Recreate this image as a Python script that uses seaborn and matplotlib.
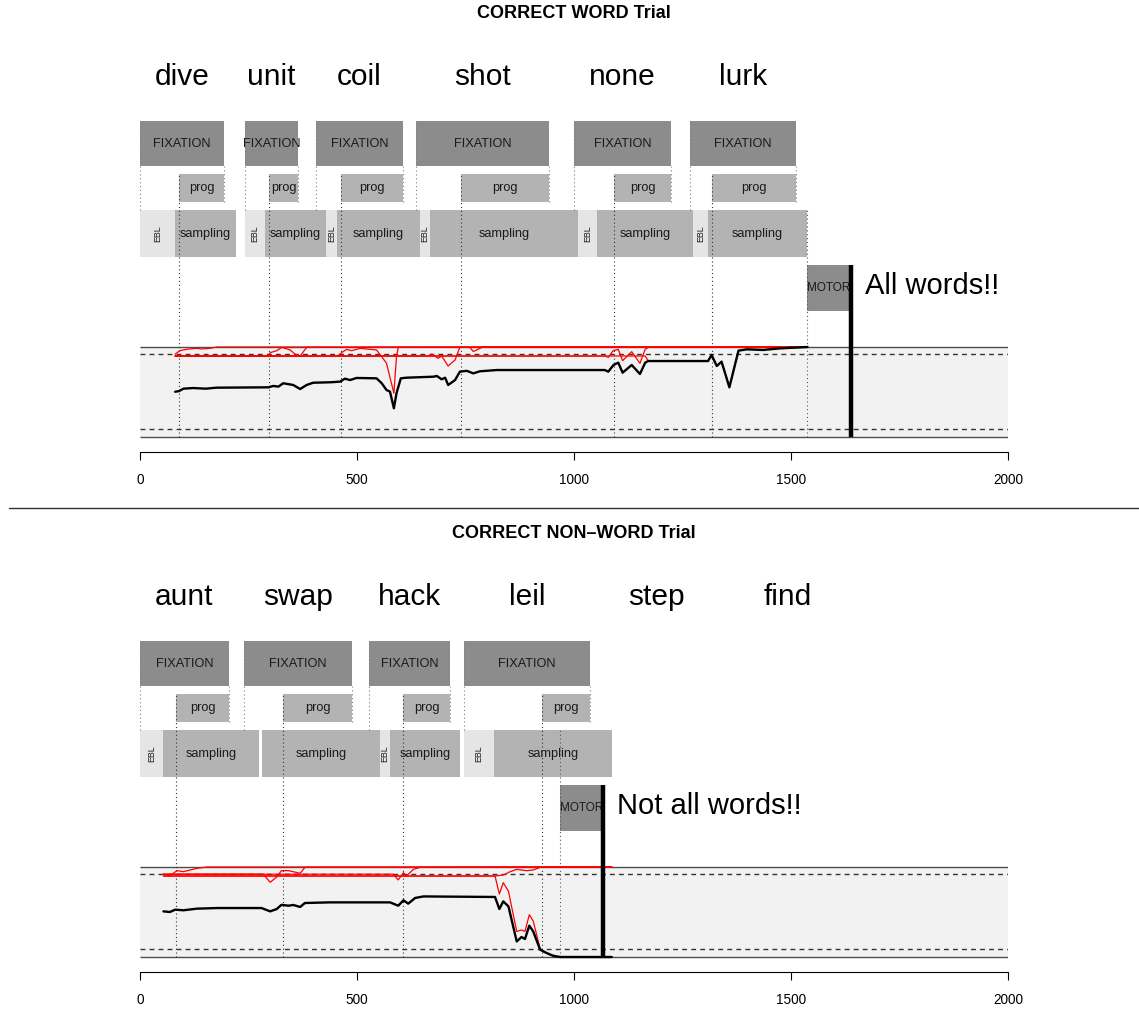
import matplotlib
matplotlib.use("Agg")
import matplotlib.pyplot as plt
import pandas as pd
import seaborn as sns

sns.set_style("white")
plt.rcParams["font.family"] = ["Liberation Sans", "DejaVu Sans"]

# ---------------- data : CORRECT WORD trial (top) ----------------
top_title = "CORRECT WORD Trial"
top_words = ["dive", "unit", "coil", "shot", "none", "lurk"]
top_word_x = [97, 302, 505, 790, 1111, 1389]
top_fix = [(0, 194), (242, 363), (406, 605), (637, 942), (1001, 1224), (1267, 1512)]
top_prog = [(91, 194), (298, 363), (463, 605), (740, 942), (1093, 1224), (1317, 1512)]
top_ebl = [(0, 81), (242, 288), (429, 454), (645, 668), (1009, 1053), (1274, 1309)]
top_samp = [(81, 221), (288, 429), (454, 645), (668, 1009), (1053, 1274), (1309, 1537)]
top_motor = (1537, 1638)
top_msg = "All words!!"

top_black_t = [81, 90, 100, 122, 152, 176, 296, 307, 319, 330, 353, 369, 384, 399, 438, 461,
               472, 484, 499, 545, 557, 568, 576, 585, 591, 601, 614, 676, 684, 695, 703, 710,
               726, 737, 753, 768, 783, 822, 1071, 1079, 1091, 1102, 1112, 1133, 1152, 1164,
               1171, 1309, 1317, 1329, 1340, 1358, 1379, 1398, 1436, 1475, 1538]
top_black_p = [0.503, 0.51, 0.537, 0.544, 0.537, 0.548, 0.552, 0.567, 0.56, 0.597, 0.578, 0.533,
               0.578, 0.603, 0.608, 0.615, 0.648, 0.633, 0.656, 0.652, 0.597, 0.522, 0.504, 0.319,
               0.486, 0.652, 0.659, 0.67, 0.678, 0.641, 0.659, 0.578, 0.633, 0.726, 0.735, 0.707,
               0.73, 0.744, 0.744, 0.726, 0.8, 0.826, 0.715, 0.8, 0.7, 0.826, 0.844, 0.844, 0.911,
               0.789, 0.837, 0.552, 0.959, 0.974, 0.967, 0.985, 1.0]

top_red_dive_t = [81, 92, 108, 131, 142, 161, 177, 1538]
top_red_dive_p = [0.92, 0.96, 0.975, 0.985, 0.978, 0.985, 1.0, 1.0]
top_red_unit_t = [81, 296, 300, 315, 327, 346, 357, 369, 384, 1538]
top_red_unit_p = [0.9, 0.9, 0.937, 0.959, 0.996, 0.967, 0.922, 0.9, 0.996, 1.0]
top_red_coil_t = [81, 455, 461, 468, 476, 488, 507, 545, 557, 568, 585, 591, 595, 1538]
top_red_coil_p = [0.9, 0.9, 0.922, 0.948, 0.974, 0.959, 0.985, 0.967, 0.892, 0.819, 0.486,
                  0.892, 0.996, 1.0]
top_red_shot_t = [81, 668, 672, 687, 695, 710, 726, 737, 760, 768, 790, 1538]
top_red_shot_p = [0.9, 0.9, 0.922, 0.874, 0.9, 0.789, 0.856, 0.996, 0.996, 0.95, 1.0, 1.0]
top_red_none_t = [81, 1071, 1079, 1090, 1102, 1112, 1133, 1152, 1164, 1171, 1538]
top_red_none_p = [0.9, 0.9, 0.885, 0.959, 0.974, 0.848, 0.948, 0.819, 0.974, 0.996, 1.0]
top_red_lurk_t = [81, 1164, 1171, 1309, 1317, 1329, 1340, 1358, 1379, 1398, 1436, 1475, 1538]
top_red_lurk_p = [0.9, 0.9, 0.848, 0.848, 0.915, 0.79, 0.84, 0.555, 0.96, 0.975, 0.97, 0.985, 1.0]

# ---------------- data : CORRECT NON-WORD trial (bottom) ----------------
bot_title = "CORRECT NON\u2013WORD Trial"
bot_words = ["aunt", "swap", "hack", "leil", "step", "find"]
bot_word_x = [101, 364, 620, 892, 1191, 1493]
bot_fix = [(0, 205), (240, 489), (528, 714), (747, 1037)]
bot_prog = [(83, 205), (330, 489), (607, 714), (927, 1037)]
bot_ebl = [(0, 53), (553, 576), (747, 816)]
bot_samp = [(53, 274), (281, 553), (576, 737), (816, 1088)]
bot_motor = (968, 1067)
bot_msg = "Not all words!!"

bot_black_t = [54, 69, 81, 100, 131, 177, 280, 300, 315, 326, 342, 353, 369, 380, 438, 576, 595,
               607, 618, 634, 653, 818, 828, 837, 849, 868, 879, 887, 897, 906, 922, 937, 952,
               968, 1087]
bot_black_p = [0.507, 0.5, 0.526, 0.519, 0.537, 0.544, 0.544, 0.507, 0.533, 0.58, 0.57, 0.578,
               0.556, 0.6, 0.607, 0.607, 0.57, 0.63, 0.593, 0.656, 0.673, 0.667, 0.533, 0.618,
               0.562, 0.173, 0.222, 0.2, 0.348, 0.284, 0.081, 0.044, 0.014, 0.0, 0.0]

bot_red_aunt_t = [54, 69, 85, 100, 131, 154, 1087]
bot_red_aunt_p = [0.92, 0.9, 0.96, 0.948, 0.985, 1.0, 1.0]
bot_red_swap_t = [54, 284, 300, 315, 326, 342, 353, 369, 380, 1087]
bot_red_swap_p = [0.92, 0.92, 0.83, 0.889, 0.96, 0.96, 0.948, 0.93, 0.996, 1.0]
bot_red_hack_t = [54, 584, 595, 607, 614, 630, 645, 1087]
bot_red_hack_p = [0.92, 0.92, 0.856, 0.937, 0.9, 0.974, 0.996, 1.0]
bot_red_leil_t = [54, 818, 828, 837, 849, 868, 879, 887, 897, 906, 922, 937, 952, 968, 1087]
bot_red_leil_p = [0.9, 0.9, 0.70, 0.826, 0.73, 0.284, 0.30, 0.284, 0.47, 0.40, 0.09, 0.044,
                  0.01, 0.0, 0.0]
bot_red_step_t = [54, 818, 837, 853, 868, 891, 906, 922, 945, 1087]
bot_red_step_p = [0.9, 0.9, 0.911, 0.948, 0.974, 0.959, 0.967, 0.996, 1.0, 1.0]

# ---------------- layout helpers ----------------
W, H = 1139, 1013
PX_L, PX_R = 140, 1008
PANEL_H = 493
Y_FIX = (3.011, 3.511)
Y_PROG = (2.611, 2.922)
Y_ROW = (2.0, 2.522)
Y_MOTOR = (1.4, 1.911)
THR_HI, THR_LO = 0.92, 0.088

C_FIX = "#8c8c8c"
C_PROG = "#b3b3b3"
C_EBL = "#e5e5e5"
C_BG = "#f2f2f2"
C_TXT = "#1a1a1a"

fig = plt.figure(figsize=(W / 100, H / 100), dpi=100)


def boxes(ax, spans, yr, color, label, fs, rot=0):
    for s, e in spans:
        ax.barh(y=(yr[0] + yr[1]) / 2, width=e - s, left=s, height=yr[1] - yr[0],
                color=color, edgecolor="none", zorder=2)
        if label:
            ax.text((s + e) / 2, (yr[0] + yr[1]) / 2, label, ha="center", va="center",
                    fontsize=fs, color=C_TXT, rotation=rot, zorder=3)


def panel(off, title, words, word_x, fix, prog, ebl, samp, motor, msg, reds, black_t, black_p):
    bottom = off + PANEL_H
    ax = fig.add_axes([PX_L / W, 1 - bottom / H, (PX_R - PX_L) / W, PANEL_H / H])

    # signal band
    ax.fill_between([0, 2000], 0, 1, color=C_BG, zorder=0, linewidth=0)
    ax.hlines([0, 1], 0, 2000, colors="#4d4d4d", lw=1.0, zorder=1)
    ax.hlines([THR_LO, THR_HI], 0, 2000, colors="#333333", lw=1.0,
              linestyles=(0, (3.5, 3)), zorder=1)

    # boxes
    boxes(ax, fix, Y_FIX, C_FIX, "FIXATION", 9.2)
    boxes(ax, prog, Y_PROG, C_PROG, "prog", 9.2)
    boxes(ax, ebl, Y_ROW, C_EBL, "EBL", 6.4, rot=90)
    boxes(ax, samp, Y_ROW, C_PROG, "sampling", 9.2)
    boxes(ax, [motor], Y_MOTOR, C_FIX, "MOTOR", 8.5)

    # dotted guide lines
    dot = (0, (1, 2.5))
    for s, e in fix:
        ax.vlines(s, Y_ROW[1], Y_FIX[1], colors="#808080", lw=0.8, linestyles=dot, zorder=4)
        ax.vlines(e, Y_PROG[0], Y_FIX[0], colors="#808080", lw=0.8, linestyles=dot, zorder=4)
    for s, e in prog:
        ax.vlines(s, 0, Y_PROG[1], colors="#333333", lw=0.8, linestyles=dot, zorder=4)
    ax.vlines(motor[0], 0, Y_ROW[1], colors="#555555", lw=0.8, linestyles=dot, zorder=4)

    # accumulator traces
    rows = []
    for name, (ts, ps) in reds.items():
        for t, p in zip(ts, ps):
            rows.append({"word": name, "t": t, "p": p})
    df_red = pd.DataFrame(rows)
    sns.lineplot(data=df_red, x="t", y="p", units="word", estimator=None, sort=False,
                 color="#ff0000", lw=0.9, ax=ax, legend=False, zorder=5)
    df_black = pd.DataFrame({"t": black_t, "p": black_p})
    sns.lineplot(data=df_black, x="t", y="p", estimator=None, sort=False,
                 color="black", lw=1.7, ax=ax, legend=False, zorder=6)

    # response line + message
    ax.vlines(motor[1], 0, Y_MOTOR[1], colors="black", lw=3.2, zorder=7)
    ax.text(motor[1] + 33, 1.678, msg, ha="left", va="center", fontsize=21, color="black")

    # words and title
    for w, x in zip(words, word_x):
        ax.text(x, 4.0, w, ha="center", va="center", fontsize=21.5, color="black")
    ax.text(1000, 4.71, title, ha="center", va="center", fontsize=13,
            fontweight="bold", color="black")

    # axes styling
    ax.set_xlim(0, 2000)
    ax.set_ylim(-56 / 90, 437 / 90)
    ax.set_xlabel("")
    ax.set_ylabel("")
    for side in ["top", "right", "left"]:
        ax.spines[side].set_visible(False)
    ax.spines["bottom"].set_position(("data", -15 / 90))
    ax.spines["bottom"].set_bounds(0, 2000)
    ax.spines["bottom"].set_color("black")
    ax.spines["bottom"].set_linewidth(0.8)
    ax.set_xticks([0, 500, 1000, 1500, 2000])
    ax.set_xticklabels(["0", "500", "1000", "1500", "2000"])
    ax.tick_params(axis="x", direction="out", length=6, width=0.8, pad=9,
                   labelsize=9.8, colors="black", bottom=True)
    ax.set_yticks([])
    ax.patch.set_alpha(0)
    return ax


panel(0, top_title, top_words, top_word_x, top_fix, top_prog, top_ebl, top_samp, top_motor,
      top_msg,
      {"dive": (top_red_dive_t, top_red_dive_p), "unit": (top_red_unit_t, top_red_unit_p),
       "coil": (top_red_coil_t, top_red_coil_p), "shot": (top_red_shot_t, top_red_shot_p),
       "none": (top_red_none_t, top_red_none_p), "lurk": (top_red_lurk_t, top_red_lurk_p)},
      top_black_t, top_black_p)

panel(520, bot_title, bot_words, bot_word_x, bot_fix, bot_prog, bot_ebl, bot_samp, bot_motor,
      bot_msg,
      {"aunt": (bot_red_aunt_t, bot_red_aunt_p), "swap": (bot_red_swap_t, bot_red_swap_p),
       "hack": (bot_red_hack_t, bot_red_hack_p), "leil": (bot_red_leil_t, bot_red_leil_p),
       "step": (bot_red_step_t, bot_red_step_p)},
      bot_black_t, bot_black_p)

# separator between the two trials
fig.add_artist(plt.Line2D([9 / W, 1], [1 - 508 / H, 1 - 508 / H], transform=fig.transFigure,
                          color="#333333", lw=1.0))

fig.savefig("out.png", dpi=100)
